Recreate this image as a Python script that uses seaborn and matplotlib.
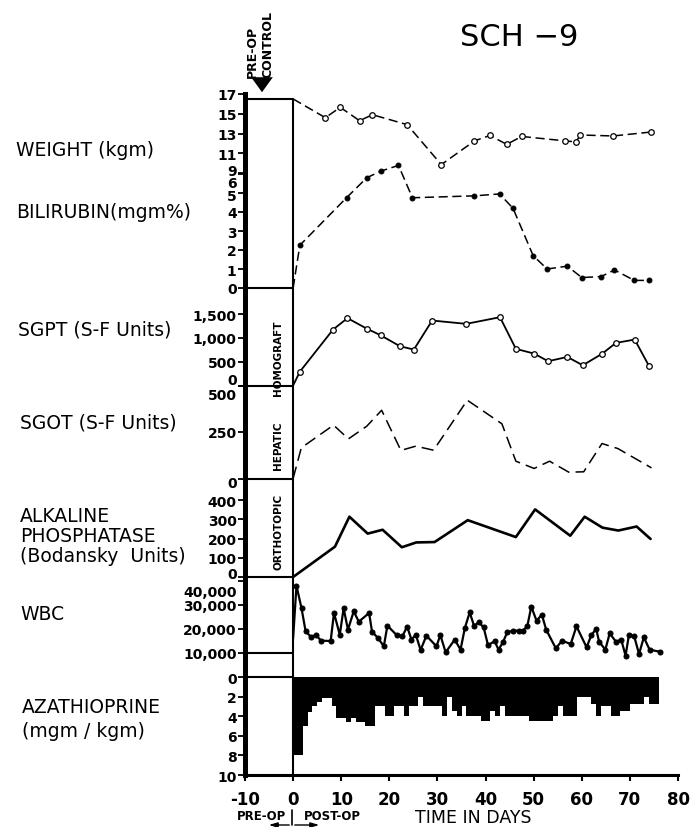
import matplotlib
matplotlib.use('Agg')
import matplotlib.pyplot as plt
import matplotlib.transforms as mtransforms
import seaborn as sns
import numpy as np
import pandas as pd

sns.set_style('white')
plt.rcParams['font.family'] = ['DejaVu Sans']
plt.rcParams['text.color'] = 'black'
plt.rcParams['xtick.color'] = 'black'
plt.rcParams['ytick.color'] = 'black'
plt.rcParams['axes.labelcolor'] = 'black'

# ---- data (days after operation) ----
weight_day = [0, 6.7, 9.8, 13.8, 16.5, 23.7, 30.8, 37.7, 40.9, 44.4, 47.5, 56.6, 58.8, 59.7, 66.5, 74.4]
weight_kg = [16.5, 14.6, 15.65, 14.3, 14.9, 13.9, 9.85, 12.25, 12.8, 11.9, 12.7, 12.25, 12.15, 12.85, 12.75, 13.15]

bili_day = [0, 1.4, 11.1, 15.3, 18.2, 21.9, 24.8, 37.7, 42.9, 45.7, 49.9, 52.8, 57.0, 60.0, 64.0, 66.8, 70.9, 74.0]
bili_val = [0, 2.25, 4.75, 5.8, 6.15, 6.45, 4.75, 4.85, 4.95, 4.2, 1.7, 1.0, 1.15, 0.55, 0.6, 0.95, 0.4, 0.4]

sgpt_day = [0, 1.4, 8.3, 11.3, 15.3, 18.2, 22.2, 25.1, 28.9, 36.0, 43.0, 46.3, 50.1, 53.0, 57.0, 60.2, 64.2, 67.1, 71.0, 74.0]
sgpt_val = [0, 290, 1175, 1415, 1195, 1055, 825, 755, 1365, 1295, 1435, 770, 670, 510, 600, 425, 665, 895, 965, 405]

sgot_day = [0, 1.7, 8.4, 11.5, 15.3, 18.4, 22.4, 25.5, 29.2, 36.2, 43.4, 46.3, 50.1, 53.3, 57.3, 60.4, 64.2, 67.5, 74.5]
sgot_val = [0, 165, 287, 213, 281, 367, 151, 174, 152, 421, 294, 93, 54, 93, 34, 36, 188, 161, 57]

alk_day = [0, 8.7, 11.7, 15.5, 18.6, 22.6, 25.6, 29.4, 36.3, 46.3, 50.3, 57.6, 60.6, 64.3, 67.6, 71.4, 74.3]
alk_val = [0, 158, 314, 226, 246, 155, 180, 182, 296, 208, 352, 215, 314, 257, 242, 263, 198]

wbc_day = [0, 0.7, 1.75, 2.6, 3.8, 4.7, 5.8, 7.8, 8.5, 9.7, 10.5, 11.4, 12.6, 13.65, 15.8, 16.4, 17.7,
           18.85, 19.6, 21.5, 22.7, 23.7, 24.6, 25.5, 26.5, 27.7, 29.8, 30.6, 31.7, 33.6, 34.8, 35.7,
           36.7, 37.6, 38.6, 39.6, 40.5, 41.9, 42.7, 43.6, 44.5, 45.7, 47.0, 47.8, 48.7, 49.5, 50.6,
           51.7, 52.6, 54.6, 55.9, 57.7, 58.9, 61.0, 62.0, 63.0, 63.6, 64.9, 65.8, 67.1, 68.2, 69.1,
           69.8, 70.9, 71.9, 72.9, 74.1, 76.2]
wbc_val = [16000, 37900, 28500, 18960, 16470, 17550, 15060, 14940, 26560, 17550, 28500, 19630, 27260,
           22950, 26560, 18800, 16050, 12730, 21300, 17430, 16880, 20890, 15500, 17550, 11200, 17150,
           12730, 17430, 10250, 15500, 11330, 20330, 26830, 21300, 22680, 20610, 13280, 14800, 11330,
           14380, 18530, 19210, 19210, 19210, 21300, 29170, 23360, 25850, 19630, 11910, 15060, 13690,
           21030, 12320, 17430, 19920, 14660, 11330, 18120, 14660, 15500, 8850, 17430, 16880, 9540,
           16470, 11330, 10500]

# azathioprine dose, one value per day (day 0 .. 75)
aza_day = list(range(76))
aza_val = [8.0, 8.0, 5.0, 3.6, 3.0, 2.6, 2.1, 2.1, 3.0, 4.2, 4.2, 4.6, 4.2, 4.6, 4.6, 5.0, 5.0, 3.0, 3.0,
           4.0, 4.0, 3.0, 3.0, 4.0, 3.0, 3.0, 2.0, 3.0, 3.0, 3.0, 3.0, 4.0, 2.0, 3.5, 4.0, 3.0, 4.0, 4.0,
           4.0, 4.5, 4.5, 3.5, 4.0, 3.0, 4.0, 4.0, 4.0, 4.0, 4.0, 4.5, 4.5, 4.5, 4.5, 4.5, 4.0, 3.0, 4.0,
           4.0, 4.0, 2.0, 2.0, 2.0, 2.8, 4.0, 3.0, 3.0, 4.0, 4.0, 3.5, 3.5, 2.8, 2.8, 2.8, 2.0, 2.8, 2.8]

x_ticks = [-10, 0, 10, 20, 30, 40, 50, 60, 70, 80]

W, H = 692, 828
fig = plt.figure(figsize=(W / 100, H / 100), dpi=100)


def rect(top, bottom, left=245, right=678):
    return [left / W, 1 - bottom / H, (right - left) / W, (bottom - top) / H]


def nudge(ax, idx, dy):
    lab = ax.get_yticklabels()[idx]
    lab.set_transform(lab.get_transform() + mtransforms.ScaledTranslation(0, dy / 100, fig.dpi_scale_trans))


# frame with thick left and bottom axis
frame = fig.add_axes(rect(95, 776))
frame.set_xlim(-10, 80)
frame.set_ylim(0, 1)
for s in ['top', 'right']:
    frame.spines[s].set_visible(False)
frame.spines['left'].set_linewidth(3.6)
frame.spines['bottom'].set_linewidth(2.2)
frame.spines['left'].set_color('black')
frame.spines['bottom'].set_color('black')
frame.set_yticks([])
frame.set_xticks(x_ticks)
frame.set_xticklabels([str(t) for t in x_ticks], fontsize=12, fontweight='bold')
frame.tick_params(axis='x', direction='out', length=4, width=1.5, pad=7, bottom=True)
frame.axvline(0, ymin=0, ymax=(776 - 100) / (776 - 95), color='black', lw=1.5)


def panel(top, bottom, ylim, ticks, labels):
    ax = fig.add_axes(rect(top, bottom))
    ax.set_facecolor('none')
    for s in ax.spines.values():
        s.set_visible(False)
    ax.set_xlim(-10, 80)
    ax.set_ylim(*ylim)
    ax.set_xticks([])
    ax.set_yticks(ticks)
    ax.set_yticklabels(labels, fontsize=10, fontweight='bold')
    ax.tick_params(axis='y', direction='out', length=5, width=1.3, pad=1, left=True)
    return ax


ax_w = panel(95, 289, (17 - 194 / 9.875, 17), [9, 11, 13, 15, 17], ['9', '11', '13', '15', '17'])
ax_b = panel(95, 289, (0, 194 / 19), [0, 1, 2, 3, 4, 5, 6], ['0', '1', '2', '3', '4', '5', '6'])
ax_pt = panel(289, 386.5, (0, 97.5 / 23.8 * 500), [0, 500, 1000, 1500], ['0', '500', '1,000', '1,500'])
ax_ot = panel(386.5, 479.5, (0, 500), [0, 250, 500], ['0', '250', '500'])
ax_ap = panel(479.5, 578, (0, 98.5 / 19.2 * 100), [0, 100, 200, 300, 400], ['0', '100', '200', '300', '400'])
ax_wbc = panel(578, 678, (0, 100 / 24.1 * 10000), [10000, 20000, 30000, 40000],
               ['10,000', '20,000', '30,000', '40,000'])
ax_az = panel(678, 776, (10, 0), [0, 2, 4, 6, 8, 10], ['0', '2', '4', '6', '8', '10'])

# crowded labels pushed apart the way the original lettering is
nudge(ax_w, 0, 4)
nudge(ax_b, 6, -8)
nudge(ax_b, 5, -1.5)
nudge(ax_pt, 0, 7)
nudge(ax_ot, 2, -8)
nudge(ax_ot, 0, -3)
nudge(ax_ap, 0, 4)
nudge(ax_wbc, 3, -10)

# pre-op control box lines
box = dict(colors='black', lw=1.5, clip_on=False)
ax_w.hlines(16.5, -10, 0, **box)
ax_b.hlines(0, -10, 0, **box)
ax_pt.hlines(0, -10, 0, **box)
ax_ot.hlines(0, -10, 0, **box)
ax_ap.hlines(0, -10, 0, **box)
ax_wbc.hlines(10000, -10, 0, **box)
ax_az.hlines(0, -10, 0, **box)

# series
sns.lineplot(x=weight_day, y=weight_kg, ax=ax_w, color='black', lw=1.1, linestyle=(0, (6, 3)),
             marker='o', markersize=4, markerfacecolor='white', markeredgecolor='black',
             markeredgewidth=0.9, markevery=list(range(1, len(weight_day))),
             estimator=None, sort=False, clip_on=False)
sns.lineplot(x=bili_day, y=bili_val, ax=ax_b, color='black', lw=1.1, linestyle=(0, (6, 3)),
             marker='o', markersize=3.5, markerfacecolor='black', markeredgecolor='black',
             markevery=list(range(1, len(bili_day))), estimator=None, sort=False, clip_on=False)
sns.lineplot(x=sgpt_day, y=sgpt_val, ax=ax_pt, color='black', lw=1.3,
             marker='o', markersize=4, markerfacecolor='white', markeredgecolor='black',
             markeredgewidth=0.9, markevery=list(range(1, len(sgpt_day))),
             estimator=None, sort=False, clip_on=False)
sns.lineplot(x=sgot_day, y=sgot_val, ax=ax_ot, color='black', lw=1.1, linestyle=(0, (8, 4)),
             estimator=None, sort=False, clip_on=False)
sns.lineplot(x=alk_day, y=alk_val, ax=ax_ap, color='black', lw=1.9,
             estimator=None, sort=False, clip_on=False)
sns.lineplot(x=wbc_day, y=wbc_val, ax=ax_wbc, color='black', lw=1.6,
             marker='o', markersize=3.6, markerfacecolor='black', markeredgecolor='black',
             markevery=list(range(1, len(wbc_day))), estimator=None, sort=False, clip_on=False)
ax_az.bar(aza_day, aza_val, width=1, align='edge', color='black', linewidth=0)

for ax in [ax_w, ax_b, ax_pt, ax_ot, ax_ap, ax_wbc, ax_az]:
    ax.set_xlabel('')
    ax.set_ylabel('')
    ax.set_xlim(-10, 80)

# left hand labels
lab = dict(fontsize=13.5, va='center', ha='left')
fig.text(16 / W, 1 - 150 / H, 'WEIGHT (kgm)', **lab)
fig.text(16 / W, 1 - 213 / H, 'BILIRUBIN(mgm%)', **lab)
fig.text(18 / W, 1 - 330 / H, 'SGPT (S-F Units)', **lab)
fig.text(20 / W, 1 - 423 / H, 'SGOT (S-F Units)', **lab)
fig.text(20 / W, 1 - 517 / H, 'ALKALINE', **lab)
fig.text(20 / W, 1 - 537 / H, 'PHOSPHATASE', **lab)
fig.text(20 / W, 1 - 557 / H, '(Bodansky  Units)', **lab)
fig.text(20 / W, 1 - 615 / H, 'WBC', **lab)
fig.text(22 / W, 1 - 708 / H, 'AZATHIOPRINE', **lab)
fig.text(22 / W, 1 - 732 / H, '(mgm / kgm)', **lab)

# title and annotations
fig.text(519 / W, 1 - 37 / H, 'SCH \u22129', fontsize=22, ha='center', va='center')
fig.text(252 / W, 1 - 78 / H, 'PRE-OP', fontsize=9, fontweight='bold', rotation=90, ha='center', va='bottom')
fig.text(268 / W, 1 - 78 / H, 'CONTROL', fontsize=9, fontweight='bold', rotation=90, ha='center', va='bottom')
fig.add_artist(matplotlib.patches.FancyArrowPatch((262 / W, 1 - 82 / H), (262 / W, 1 - 96 / H),
                                                  transform=fig.transFigure,
                                                  arrowstyle='simple,head_width=1.3,head_length=0.9,tail_width=0.55',
                                                  mutation_scale=12, color='black', lw=0))

fig.text(278 / W, 1 - 358 / H, 'HOMOGRAFT', fontsize=7.5, fontweight='bold', rotation=90, ha='center', va='center')
fig.text(278 / W, 1 - 446 / H, 'HEPATIC', fontsize=7.5, fontweight='bold', rotation=90, ha='center', va='center')
fig.text(278 / W, 1 - 532 / H, 'ORTHOTOPIC', fontsize=7.5, fontweight='bold', rotation=90, ha='center', va='center')

fig.text(473 / W, 1 - 818 / H, 'TIME IN DAYS', fontsize=12.5, ha='center', va='center')
fig.text(262 / W, 1 - 817 / H, 'PRE-OP', fontsize=8.5, fontweight='bold', ha='center', va='center')
fig.text(332 / W, 1 - 817 / H, 'POST-OP', fontsize=8.5, fontweight='bold', ha='center', va='center')
fig.add_artist(matplotlib.lines.Line2D([292 / W, 292 / W], [1 - 811 / H, 1 - 826 / H],
                                       transform=fig.transFigure, color='black', lw=1.2))
for x_end in [266, 322]:
    fig.add_artist(matplotlib.patches.FancyArrowPatch((292 / W, 1 - 826 / H), (x_end / W, 1 - 826 / H),
                                                      transform=fig.transFigure, arrowstyle='-|>,head_width=0.15,head_length=0.5',
                                                      mutation_scale=10, color='black', lw=1.0))

fig.savefig('out.png', dpi=100)
